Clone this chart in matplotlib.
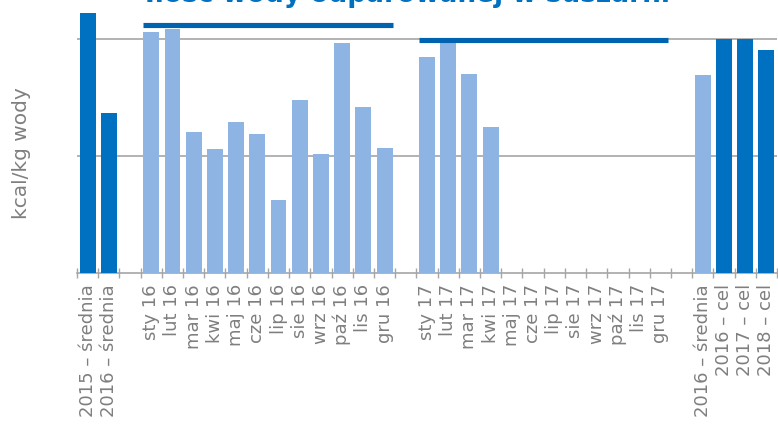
import numpy as np
import matplotlib
matplotlib.use('Agg')
import matplotlib.pyplot as plt

# kategorie i wartosci (kcal/kg wody)
avg_labels = ['2015 – średnia', '2016 – średnia']
avg_values = [1112, 685]

months16 = ['sty 16', 'lut 16', 'mar 16', 'kwi 16', 'maj 16', 'cze 16',
            'lip 16', 'sie 16', 'wrz 16', 'paź 16', 'lis 16', 'gru 16']
values16 = [1031, 1044, 604, 531, 647, 595, 313, 741, 510, 984, 711, 535]

months17 = ['sty 17', 'lut 17', 'mar 17', 'kwi 17', 'maj 17', 'cze 17',
            'lip 17', 'sie 17', 'wrz 17', 'paź 17', 'lis 17', 'gru 17']
values17 = [924, 984, 852, 625, np.nan, np.nan,
            np.nan, np.nan, np.nan, np.nan, np.nan, np.nan]

tail_labels = ['2016 – średnia', '2016 – cel', '2017 – cel', '2018 – cel']
tail_values = [847, 1001, 1001, 954]

target16 = 1059
target17 = 997

dark = '#0070C0'
light = '#8DB4E2'
line_col = '#0063AF'
grey = '#A6A6A6'
text_grey = '#7F7F7F'

# pozycje: przerwy miedzy grupami
labels = avg_labels + [''] + months16 + [''] + months17 + [''] + tail_labels
values = avg_values + [np.nan] + values16 + [np.nan] + values17 + [np.nan] + tail_values
colors = ([dark] * 2 + [light] + [light] * 12 + [light] + [light] * 12 + [light]
          + [light, dark, dark, dark])
x = np.arange(len(labels))

fig = plt.figure(figsize=(7.78, 4.40), dpi=100)
ax = fig.add_axes([77 / 778, 167 / 440, 700 / 778, 273 / 440])

vals = np.nan_to_num(np.array(values, dtype=float))
ax.bar(x, vals, width=0.75, color=colors, zorder=3)

i16 = len(avg_labels) + 1
i17 = i16 + len(months16) + 1
ax.plot([i16 - 0.375, i16 + len(months16) - 1 + 0.375], [target16, target16],
        color=line_col, lw=3.7, solid_capstyle='butt', zorder=4)
ax.plot([i17 - 0.375, i17 + len(months17) - 1 + 0.375], [target17, target17],
        color=line_col, lw=3.7, solid_capstyle='butt', zorder=4)

ax.set_xlim(-0.5, len(labels) - 0.5)
ax.set_ylim(0, 1168)
ax.set_yticks([500, 1000])
ax.set_yticklabels([])
ax.tick_params(axis='y', length=0)
ax.grid(axis='y', color=grey, lw=1.2, zorder=0)

ax.set_xticks(x)
ax.set_xticklabels(labels, rotation=90, fontsize=13, color=text_grey)
ax.tick_params(axis='x', which='major', length=0, pad=8)
ax.set_xticks(np.arange(-0.5, len(labels)), minor=True)
ax.tick_params(axis='x', which='minor', direction='inout', length=6.5,
               color=grey, width=1)

for s in ['top', 'right', 'left']:
    ax.spines[s].set_visible(False)
ax.spines['bottom'].set_color(grey)
ax.spines['bottom'].set_linewidth(1.2)

fig.text(22 / 778, 1 - 153 / 440, 'kcal/kg wody', rotation=90, fontsize=14.5,
         color=text_grey, ha='center', va='center')

# tytul przyciety u gory jak w oryginale
fig.text(145 / 778, 1 - 2 / 440, 'Ilość wody odparowanej w suszarni',
         fontsize=19, fontweight='bold', color=dark, ha='left', va='baseline')

fig.savefig('out.png', dpi=100)
